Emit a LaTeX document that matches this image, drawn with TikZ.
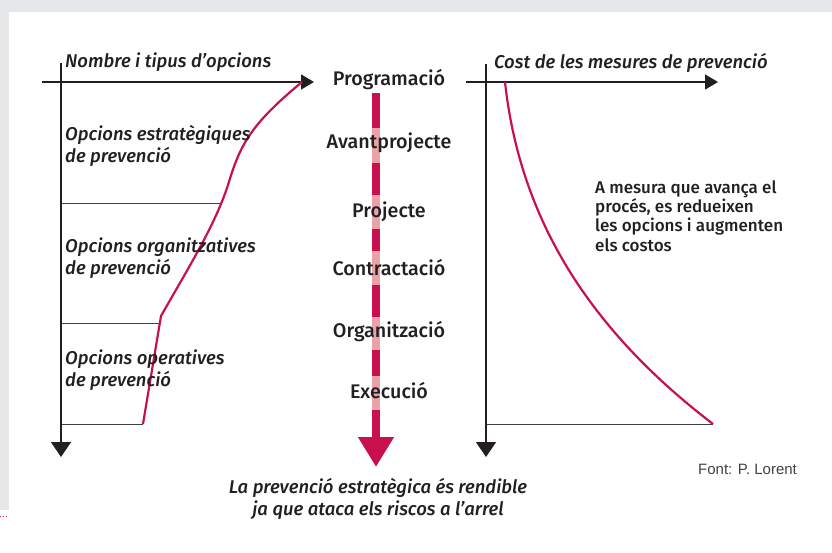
\documentclass[tikz,border=0pt]{standalone}
\usepackage{fontspec}
\setmainfont{Fira Sans Medium}[ItalicFont={Fira Sans Medium Italic}]
\newfontfamily\fontfont{Liberation Sans}
\usetikzlibrary{arrows.meta}

\definecolor{vermell}{HTML}{C8104E}
\definecolor{rosa}{HTML}{E9A2A8}
\definecolor{gristext}{HTML}{231F20}
\definecolor{grisfons}{HTML}{E6E7E8}

\begin{document}
\begin{tikzpicture}[x=1pt,y=-1pt,
    eix/.style={line width=1.5pt,gristext},
    sep/.style={line width=1pt,gristext!85},
    corba/.style={line width=2.2pt,vermell},
    etiq/.style={font=\fontsize{18.5}{22}\selectfont\itshape,text=gristext,align=left,inner sep=0pt,anchor=west},
    fase/.style={font=\fontsize{19.7}{20}\selectfont,text=gristext,inner sep=0pt}]
    \useasboundingbox (0,0) rectangle (832,552);

    % fons
    \fill[grisfons] (0,0) rectangle (832,12);
    \fill[grisfons] (0,0) rectangle (9,510);
    \draw[vermell,dotted,line width=1pt] (0,516) -- (9,516);

    % grafic esquerre
    \draw[sep] (61,203) -- (222,203);
    \draw[sep] (61,323) -- (161,323);
    \draw[sep] (61,424) -- (143,424);
    \draw[eix,-{Triangle[length=13pt,width=15pt]}] (42,82) -- (314,82);
    \draw[eix,-{Triangle[length=15pt,width=20pt]}] (61,63) -- (61,457);
    \draw[corba] (143,424) -- (161,316) .. controls (190,265) and (215,225) .. (228,185)
        .. controls (240,145) and (250,125) .. (302,82);

    \node[etiq] (nombre) at (65,62) {Nombre i tipus d’opcions};
    \node[etiq] (estrat) at (65,146) {Opcions estratègiques\\de prevenció};
    \node[etiq] (organ) at (65,258) {Opcions organitzatives\\de prevenció};
    \node[etiq] (operat) at (65,370) {Opcions operatives\\de prevenció};

    % fases
    \draw[vermell,line width=8pt,-{Triangle[length=30pt,width=34pt]}] (376,93) -- (376,467);
    \foreach \a/\b in {128/163,195/229,251/285,317/350,376/410}
        \draw[rosa,line width=8pt] (376,\a) -- (376,\b);
    \foreach \y/\t/\n in {80/Programació/prog,143/Avantprojecte/avant,212/Projecte/proj,
        268/Contractació/contr,332/Organització/org,391/Execució/exec}
        \node[fase] (\n) at (389,\y) {\t};

    \node[etiq,anchor=center,align=center] (conclusio) at (378,499)
        {La prevenció estratègica és rendible\\ja que ataca els riscos a l’arrel};

    % grafic dret
    \draw[sep] (486,424) -- (713,424);
    \draw[eix,-{Triangle[length=13pt,width=15pt]}] (466,82) -- (718,82);
    \draw[eix,-{Triangle[length=15pt,width=20pt]}] (486,64) -- (486,457);
    \draw[corba] (505,82) .. controls (520,220) and (590,330) .. (713,424);

    \node[etiq] (cost) at (494,63) {Cost de les mesures de prevenció};
    \node[font=\fontsize{17}{19.3}\selectfont,text=gristext,align=left,inner sep=0pt,anchor=west]
        (mesura) at (595,216) {A mesura que avança el\\procés, es redueixen\\les opcions i augmenten\\els costos};
    \node[font=\fontfont\fontsize{15}{16}\selectfont,text=gristext!85,inner sep=0pt,anchor=west]
        (font) at (698,469) {Font: P. Lorent};
\end{tikzpicture}
\end{document}
